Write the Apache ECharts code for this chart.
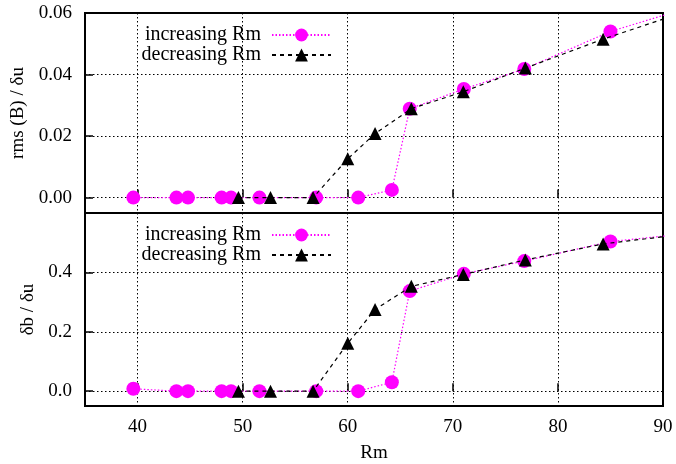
<!DOCTYPE html>
<html>
<head>
<meta charset="utf-8">
<script src="https://cdn.jsdelivr.net/npm/echarts@6/dist/echarts.min.js"></script>
<style>html,body{margin:0;padding:0;background:#fff}#c{width:676px;height:464px}</style>
</head>
<body>
<div id="c"></div>
<script>
// Increasing Rm branch
const rmInc = [39.6, 43.7, 44.8, 48.0, 48.9, 51.6, 57.0, 61.0, 64.2, 65.9, 71.05, 76.8, 85.0, 95.0];
const rmsInc = [0, 0, 0, 0, 0, 0, 0, 0, 0.0025, 0.0289, 0.0353, 0.0418, 0.0540, 0.0644];
const dbInc = [0.008, 0, 0, 0, 0, 0, 0, 0, 0.030, 0.337, 0.395, 0.438, 0.504, 0.540];
// Decreasing Rm branch
const rmDec = [49.6, 52.65, 56.7, 60.0, 62.6, 66.05, 71.0, 76.9, 84.3, 95.0];
const rmsDec = [0, 0, 0, 0.0126, 0.0208, 0.0289, 0.0344, 0.0421, 0.0515, 0.0637];
const dbDec = [0, 0, 0, 0.161, 0.275, 0.353, 0.393, 0.442, 0.496, 0.541];

const xTicks = [40, 50, 60, 70, 80, 90];
const nameInc = 'increasing Rm';
const nameDec = 'decreasing Rm';

const FONT = 'Liberation Serif';
const pairs = (xs, ys) => xs.map((x, i) => [x, ys[i]]);

const gridLine = {show: true, lineStyle: {color: '#000', width: 1, type: [1.5, 2.5]}};
const tick = {show: true, inside: true, length: 8, lineStyle: {color: '#000', width: 1.5}};

function xAxis(gi, labels) {
  return {
    type: 'value', gridIndex: gi, min: 35, max: 90, minInterval: 10, maxInterval: 10,
    axisLine: {show: false}, axisTick: tick, splitLine: gridLine,
    axisLabel: {show: labels, color: '#000', fontFamily: FONT, fontSize: 19, margin: 12,
      showMinLabel: false, formatter: v => xTicks.includes(v) ? String(v) : ''},
    name: labels ? 'Rm' : '', nameLocation: 'middle', nameGap: 38,
    nameTextStyle: {color: '#000', fontFamily: FONT, fontSize: 19}
  };
}

const incStyle = {
  type: 'line', symbol: 'circle', symbolSize: 14, itemStyle: {color: '#ff00ff'},
  lineStyle: {color: '#ff00ff', width: 1.2, type: [1.5, 2]}, z: 3
};
const decStyle = {
  type: 'line', symbol: 'triangle', symbolSize: 13, itemStyle: {color: '#000'},
  lineStyle: {color: '#000', width: 1.2, type: [4, 4]}, z: 4
};

function legend(top) {
  return {
    data: [nameInc, nameDec], orient: 'vertical', align: 'right', right: 339, top: top,
    itemWidth: 59, itemHeight: 16, itemGap: 0, selectedMode: false,
    textStyle: {color: '#000', fontFamily: FONT, fontSize: 20, lineHeight: 18, padding: [0, 6, 0, 0]}
  };
}

const chart = echarts.init(document.getElementById('c'), null, {renderer: 'canvas'});
chart.setOption({
  animation: false,
  backgroundColor: '#fff',
  grid: [
    {left: 85, top: 13, width: 578, height: 200, show: true, borderColor: '#000', borderWidth: 2, backgroundColor: 'transparent'},
    {left: 85, top: 213, width: 578, height: 198, show: true, borderColor: '#000', borderWidth: 2, backgroundColor: 'transparent'}
  ],
  legend: [legend(20), legend(220)],
  xAxis: [xAxis(0, false), xAxis(1, true)],
  yAxis: [
    {type: 'value', gridIndex: 0, min: -0.005, max: 0.06, minInterval: 0.02, maxInterval: 0.02,
      axisLine: {show: false}, axisTick: tick, splitLine: gridLine,
      axisLabel: {color: '#000', fontFamily: FONT, fontSize: 19, margin: 13, showMinLabel: false,
        formatter: v => v.toFixed(2)},
      name: 'rms (B) / δu', nameLocation: 'middle', nameRotate: 90, nameGap: 56,
      nameTextStyle: {color: '#000', fontFamily: FONT, fontSize: 19}},
    {type: 'value', gridIndex: 1, min: -0.05, max: 0.6, minInterval: 0.2, maxInterval: 0.2,
      axisLine: {show: false}, axisTick: tick, splitLine: gridLine,
      axisLabel: {color: '#000', fontFamily: FONT, fontSize: 19, margin: 13, showMinLabel: false, showMaxLabel: false,
        formatter: v => (v > 0.5 ? '' : v.toFixed(1))},
      name: 'δb / δu', nameLocation: 'middle', nameRotate: 90, nameGap: 46,
      nameTextStyle: {color: '#000', fontFamily: FONT, fontSize: 19}}
  ],
  series: [
    Object.assign({name: nameInc, xAxisIndex: 0, yAxisIndex: 0, data: pairs(rmInc, rmsInc)}, incStyle),
    Object.assign({name: nameDec, xAxisIndex: 0, yAxisIndex: 0, data: pairs(rmDec, rmsDec)}, decStyle),
    Object.assign({name: nameInc, xAxisIndex: 1, yAxisIndex: 1, data: pairs(rmInc, dbInc)}, incStyle),
    Object.assign({name: nameDec, xAxisIndex: 1, yAxisIndex: 1, data: pairs(rmDec, dbDec)}, decStyle)
  ]
});
</script>
</body>
</html>
